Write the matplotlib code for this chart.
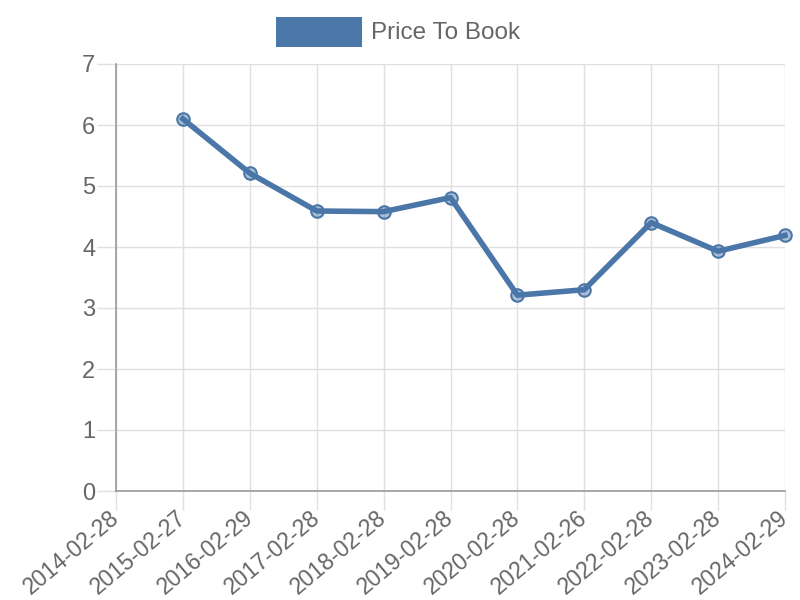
import matplotlib
matplotlib.use("Agg")
import matplotlib.pyplot as plt
from matplotlib.patches import Rectangle
import numpy as np

dates = ["2014-02-28", "2015-02-27", "2016-02-29", "2017-02-28", "2018-02-28",
         "2019-02-28", "2020-02-28", "2021-02-26", "2022-02-28", "2023-02-28",
         "2024-02-29"]
price_to_book = [np.nan, 6.1, 5.21, 4.59, 4.58, 4.81, 3.21, 3.30, 4.40, 3.93, 4.19]
y_ticks = [0, 1, 2, 3, 4, 5, 6, 7]
series_name = "Price To Book"

plt.rcParams['font.family'] = ['Liberation Sans', 'DejaVu Sans']
line_color = "#4a76a8"
text_color = "#666666"

fig = plt.figure(figsize=(8, 6), dpi=100)
ax = fig.add_axes([116/800, 1-491/600, (785-116)/800, (491-64)/600])

x = np.arange(len(dates))
ax.plot(x, price_to_book, color=line_color, linewidth=4, zorder=3,
        marker='o', markersize=9, markerfacecolor=(0.29, 0.46, 0.66, 0.45),
        markeredgecolor=line_color, markeredgewidth=1.5, clip_on=False)

ax.set_xlim(0, len(dates)-1)
ax.set_ylim(0, 7)
ax.set_yticks(y_ticks)
ax.set_xticks(x)
ax.set_xticklabels(dates, rotation=40, ha='right', va='center',
                   rotation_mode='anchor', fontsize=16.5)
ax.grid(True, color="#e0e0e0", linewidth=1)
ax.set_axisbelow(True)
for s in ['top', 'right']:
    ax.spines[s].set_visible(False)
for s in ['left', 'bottom']:
    ax.spines[s].set_color("#9a9a9a")
    ax.spines[s].set_linewidth(1.2)
ax.tick_params(axis='both', colors=text_color, labelsize=17, length=14,
               color="#e0e0e0", width=1)
ax.tick_params(axis='x', pad=3, labelsize=16.5)
ax.tick_params(axis='y', pad=1)

# legend
fig.add_artist(Rectangle((276/800, 1-47/600), 86/800, 30/600,
                         transform=fig.transFigure, facecolor=line_color,
                         edgecolor='none'))
fig.text(371/800, 1-33/600, series_name, color=text_color, fontsize=17.5,
         va='center', ha='left')

fig.savefig("out.png", dpi=100)
